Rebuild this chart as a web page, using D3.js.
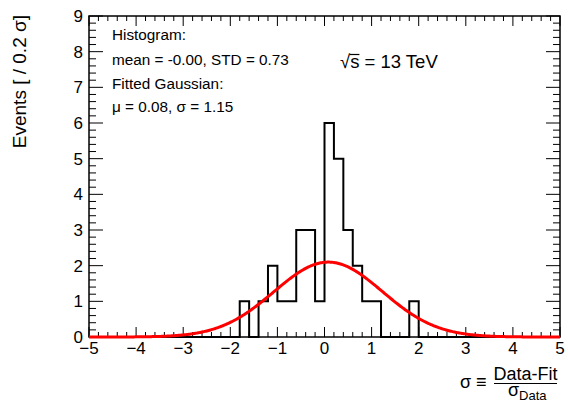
<!DOCTYPE html>
<html><head><meta charset="utf-8">
<script src="https://cdn.jsdelivr.net/npm/d3@7"></script>
<style>body{margin:0;background:#fff}svg{display:block;font-family:"Liberation Sans",Arial,sans-serif}</style>
</head><body><svg id="c" width="568" height="402"></svg>
<script>
// ---- data ----
const xDomain = [-5, 5];
const yDomain = [0, 9];
const binWidth = 0.2;
const binStart = -5;
// counts of the 50 bins from -5 to 5 (width 0.2)
const counts = [0,0,0,0,0,0,0,0,0,0, 0,0,0,0,0,0,1,0,1,2, 1,1,3,3,1,6,5,3,2,1, 1,0,0,0,1,0,0,0,0,0, 0,0,0,0,0,0,0,0,0,0];
const xTicks = [-5,-4,-3,-2,-1,0,1,2,3,4,5];
const yTicks = [0,1,2,3,4,5,6,7,8,9];
const fitMu = 0.08, fitSigma = 1.15, fitAmp = 2.1;
const infoLines = ["Histogram:", "mean = -0.00, STD = 0.73", "Fitted Gaussian:", "\u03bc = 0.08, \u03c3 = 1.15"];

// ---- layout ----
const L = 89, R = 560, T = 16, B = 337;
const svg = d3.select("#c");
const x = d3.scaleLinear().domain(xDomain).range([L, R]);
const y = d3.scaleLinear().domain(yDomain).range([B, T]);

// histogram outline
const pts = [[xDomain[0], 0]];
counts.forEach((c, i) => {
  const x0 = binStart + i * binWidth, x1 = x0 + binWidth;
  pts.push([x0, c], [x1, c]);
});
pts.push([xDomain[1], 0]);
svg.append("path")
  .attr("d", d3.line().x(d => x(d[0])).y(d => y(d[1]))(pts))
  .attr("fill", "none").attr("stroke", "#000").attr("stroke-width", 2);

// frame
svg.append("rect").attr("x", L).attr("y", T).attr("width", R - L).attr("height", B - T)
  .attr("fill", "none").attr("stroke", "#000").attr("stroke-width", 1.5);

// ticks
const g = svg.append("g").attr("stroke", "#000").attr("stroke-width", 1);
const xMinor = d3.range(-5, 5.0001, 0.2);
xMinor.forEach(v => {
  const isMaj = Math.abs(v - Math.round(v)) < 1e-6;
  const len = isMaj ? 10 : 5;
  g.append("line").attr("x1", x(v)).attr("x2", x(v)).attr("y1", B).attr("y2", B - len);
  g.append("line").attr("x1", x(v)).attr("x2", x(v)).attr("y1", T).attr("y2", T + len);
});
const yMinor = d3.range(0, 9.0001, 0.2);
yMinor.forEach(v => {
  const isMaj = Math.abs(v - Math.round(v)) < 1e-6;
  const len = isMaj ? 14 : 7;
  g.append("line").attr("y1", y(v)).attr("y2", y(v)).attr("x1", L).attr("x2", L + len);
  g.append("line").attr("y1", y(v)).attr("y2", y(v)).attr("x1", R).attr("x2", R - len);
});

// gaussian fit
const gx = d3.range(-5, 5.0001, 0.02);
svg.append("path")
  .attr("d", d3.line().x(d => x(d)).y(d => y(fitAmp * Math.exp(-0.5 * Math.pow((d - fitMu) / fitSigma, 2))))(gx))
  .attr("fill", "none").attr("stroke", "#ff0000").attr("stroke-width", 3);

// tick labels
const fmt = v => v < 0 ? "\u2212" + Math.abs(v) : String(v);
svg.append("g").selectAll("text").data(xTicks).join("text")
  .attr("x", d => x(d)).attr("y", 354).attr("text-anchor", "middle")
  .attr("font-size", 17).text(fmt);
svg.append("g").selectAll("text").data(yTicks).join("text")
  .attr("x", 83).attr("y", d => y(d) + 6).attr("text-anchor", "end")
  .attr("font-size", 17).text(d => d);

// y title
svg.append("text").attr("transform", "translate(26,15) rotate(-90)")
  .attr("text-anchor", "end").attr("font-size", 19).text("Events [ / 0.2 \u03c3]");

// info text
const baselines = [40, 65, 88.5, 112];
infoLines.forEach((t, i) => {
  svg.append("text").attr("x", 112).attr("y", baselines[i]).attr("font-size", 15.3).text(t);
});

// sqrt(s) label
const sq = svg.append("text").attr("x", 340).attr("y", 68).attr("font-size", 18.5);
sq.append("tspan").text("\u221a");
sq.append("tspan").text("s");
sq.append("tspan").text(" = 13 TeV");
const sq0 = sq.node().getStartPositionOfChar(1), sq1 = sq.node().getEndPositionOfChar(1);
svg.append("line").attr("x1", sq0.x - 0.5).attr("x2", sq1.x).attr("y1", 54.5).attr("y2", 54.5)
  .attr("stroke", "#000").attr("stroke-width", 1.2);

// x title
svg.append("text").attr("x", 460).attr("y", 388).attr("font-size", 18).text("\u03c3 \u2261");
svg.append("text").attr("x", 525.5).attr("y", 380).attr("font-size", 18).attr("text-anchor", "middle").text("Data-Fit");
svg.append("line").attr("x1", 494).attr("x2", 557).attr("y1", 383.5).attr("y2", 383.5).attr("stroke", "#000").attr("stroke-width", 1.2);
const den = svg.append("text").attr("x", 508).attr("y", 395.5).attr("font-size", 18);
den.append("tspan").text("\u03c3");
den.append("tspan").attr("dy", 4).attr("font-size", 13).text("Data");
</script></body></html>
